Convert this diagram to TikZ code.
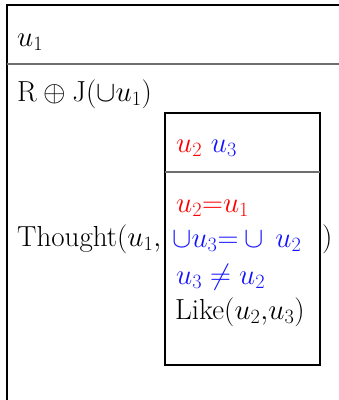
\RequirePackage{fix-cm}
\documentclass[tikz,border=0pt]{standalone}
\usepackage{amsmath}
\definecolor{drsred}{RGB}{255,0,0}
\definecolor{drsblue}{RGB}{20,20,255}
\definecolor{sepgray}{RGB}{110,110,110}
\begin{document}
\begin{tikzpicture}[x=1pt,y=-1pt,
  txt/.style={anchor=base west,inner sep=0pt,font=\fontsize{29}{34}\selectfont},
  boxline/.style={line width=1.1pt,black},
  sepline/.style={line width=1.6pt,sepgray}]
\useasboundingbox (0,0) rectangle (339,400);
% outer box (cropped)
\draw[boxline] (7,420) -- (7,5) -- (360,5);
\draw[sepline] (7,64) -- (360,64);
% inner box
\draw[boxline] (165,113) rectangle (320,365);
\draw[sepline] (165,172) -- (320,172);
% outer texts
\node[txt] (ref) at (17,46) {$u_1$};
\node[txt] (rj) at (17,101) {$\mathrm{R}\oplus\mathrm{J}(\cup u_1)$};
\node[txt] (th) at (17,246) {Thought$(u_1,$};
\node[txt] (cp) at (322,246) {$)$};
% inner texts
\node[txt] (iref) at (176,152) {$\color{drsred}u_2$\ $\color{drsblue}u_3$};
\node[txt,text=drsred] (c1) at (176,212) {$u_2{=}u_1$};
\node[txt,text=drsblue] (c2) at (172,247) {$\cup u_3{=}\cup\, u_2$};
\node[txt,text=drsblue] (c3) at (176,284) {$u_3\neq u_2$};
\node[txt] (c4) at (175,319) {Like$(u_2{,}u_3)$};
\end{tikzpicture}
\end{document}
